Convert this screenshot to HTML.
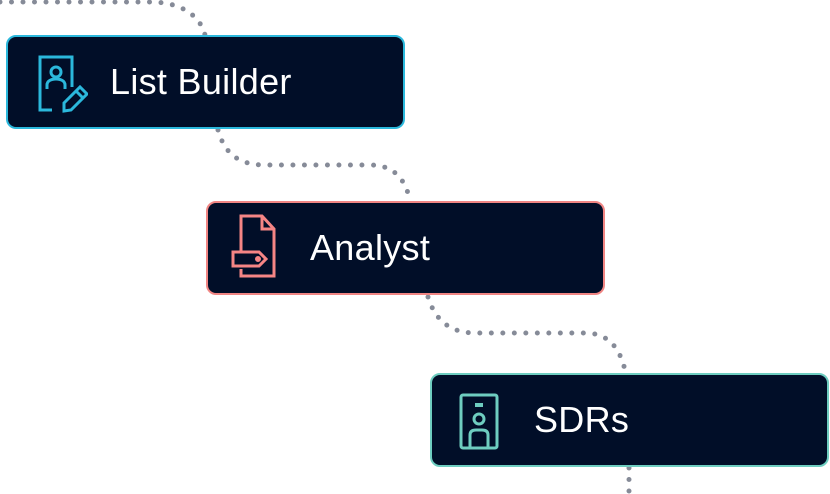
<!DOCTYPE html>
<html><head><style>
html,body{margin:0;padding:0;background:#fff;width:830px;height:494px;overflow:hidden}
.box{position:absolute;box-sizing:border-box;width:399px;height:94px;background:#010e28;border-radius:10px;border:2px solid}
.lbl{position:absolute;left:102px;top:0;line-height:90px;color:#fff;font-family:"Liberation Sans",sans-serif;font-size:36px;letter-spacing:0.3px}
svg{position:absolute;left:0;top:0}
</style></head><body>
<svg width="830" height="494">
<g fill="none" stroke="#868b98" stroke-width="5" stroke-linecap="round" stroke-dasharray="0 11.5">
<path d="M0 2 H150 C180 2 200 15 205 35"/>
<path d="M218 130 C225 155 240 165 265 165 H370 C395 165 405 180 410 200"/>
<path d="M428 297 C435 320 450 333 475 333 H585 C610 333 620 350 625 370"/>
<path d="M629 468 V494"/>
</g>
</svg>
<div class="box" style="left:6px;top:35px;border-color:#2bb8dc">
<svg width="60" height="90" style="left:20px;top:0">
<g fill="none" stroke="#2bb8dc" stroke-width="3">
<path d="M24 73 H12 V20 H44 V50"/>
<circle cx="28" cy="35" r="5"/>
<path d="M19 52 V48 C19 44 23 42 28 42 C33 42 37 44 37 48 V52"/>
<path d="M36 74 V66 L52 50 L59 57 L43 73 Z M48 54 L55 61"/>
</g></svg>
<div class="lbl">List Builder</div></div>
<div class="box" style="left:206px;top:201px;border-color:#f08583">
<svg width="60" height="90" style="left:20px;top:0">
<g fill="none" stroke="#f58585" stroke-width="3">
<path d="M13 49 V13 H34 L46 26 V73 H13 V66"/>
<path d="M34 13 V26 H46"/>
<path d="M5 49 H31 L38 56 L31 63 H5 Z"/>
<circle cx="30" cy="56" r="1.5" fill="#f58585"/>
</g></svg>
<div class="lbl">Analyst</div></div>
<div class="box" style="left:430px;top:373px;border-color:#6ecdc0">
<svg width="60" height="90" style="left:20px;top:0">
<g fill="none" stroke="#6ecdc0" stroke-width="3">
<rect x="9" y="20" width="36" height="53" rx="2"/>
<path d="M23 30 H31" stroke-width="4"/>
<circle cx="27" cy="44" r="5"/>
<path d="M18 72 V60 C18 56 21 55 24 55 H30 C33 55 36 56 36 60 V72"/>
</g></svg>
<div class="lbl">SDRs</div></div>
</body></html>
